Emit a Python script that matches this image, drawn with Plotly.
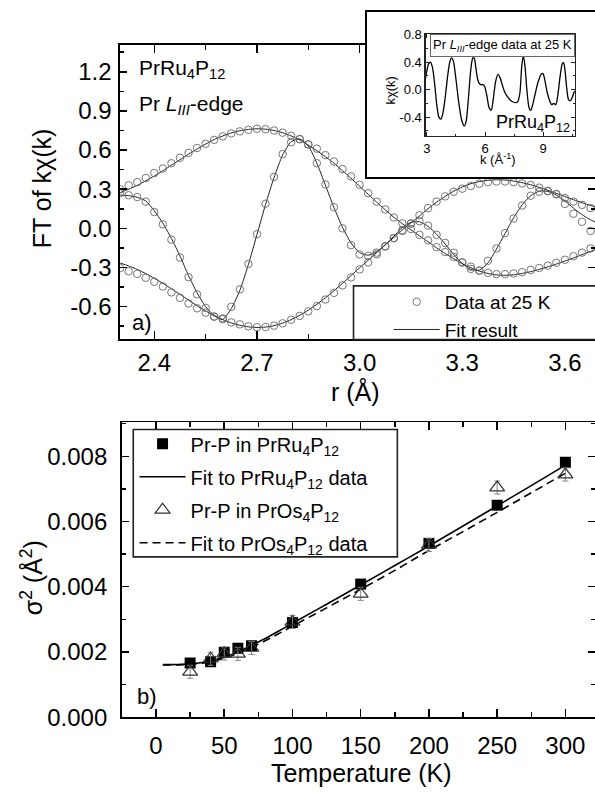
import plotly.graph_objects as go

# ---------------- panel a): Fourier transform of k*chi(k), PrRu4P12 ----------------
r_grid = [2.300, 2.325, 2.350, 2.375, 2.400, 2.425, 2.450, 2.475, 2.500, 2.525,
          2.550, 2.575, 2.600, 2.625, 2.650, 2.675, 2.700, 2.725, 2.750, 2.775,
          2.800, 2.825, 2.850, 2.875, 2.900, 2.925, 2.950, 2.975, 3.000, 3.025,
          3.050, 3.075, 3.100, 3.125, 3.150, 3.175, 3.200, 3.225, 3.250, 3.275,
          3.300, 3.325, 3.350, 3.375, 3.400, 3.425, 3.450, 3.475, 3.500, 3.525,
          3.550, 3.575, 3.600, 3.625, 3.650, 3.675, 3.700]

upper_data = [0.299, 0.329, 0.354, 0.386, 0.424, 0.459, 0.499, 0.541, 0.578, 0.616,
              0.648, 0.678, 0.705, 0.728, 0.743, 0.755, 0.763, 0.760, 0.750, 0.733,
              0.710, 0.683, 0.643, 0.611, 0.561, 0.512, 0.454, 0.398, 0.334, 0.269,
              0.204, 0.145, 0.083, 0.038, -0.005, -0.050, -0.092, -0.144, -0.182, -0.219,
              -0.261, -0.294, -0.324, -0.341, -0.351, -0.351, -0.346, -0.336, -0.319, -0.304,
              -0.286, -0.264, -0.241, -0.214, -0.186, -0.154, -0.130]
upper_fit = [0.274, 0.300, 0.329, 0.364, 0.401, 0.441, 0.484, 0.526, 0.568, 0.608,
             0.646, 0.681, 0.708, 0.731, 0.748, 0.758, 0.763, 0.760, 0.750, 0.733,
             0.708, 0.678, 0.638, 0.595, 0.549, 0.499, 0.441, 0.384, 0.322, 0.262,
             0.200, 0.142, 0.085, 0.035, -0.012, -0.058, -0.103, -0.150, -0.193, -0.233,
             -0.270, -0.302, -0.328, -0.346, -0.357, -0.360, -0.356, -0.346, -0.332, -0.315,
             -0.295, -0.274, -0.251, -0.227, -0.202, -0.177, -0.152]

lower_data = [-0.305, -0.329, -0.349, -0.379, -0.410, -0.446, -0.491, -0.533, -0.576, -0.613,
              -0.646, -0.676, -0.696, -0.721, -0.736, -0.751, -0.758, -0.756, -0.746, -0.728,
              -0.701, -0.671, -0.636, -0.596, -0.546, -0.495, -0.437, -0.376, -0.315, -0.261,
              -0.199, -0.139, -0.075, -0.015, 0.037, 0.100, 0.155, 0.205, 0.245, 0.280,
              0.304, 0.324, 0.342, 0.354, 0.359, 0.359, 0.354, 0.344, 0.332, 0.312,
              0.287, 0.262, 0.232, 0.205, 0.180, 0.155, 0.135]
lower_fit = [-0.266, -0.288, -0.315, -0.347, -0.383, -0.421, -0.463, -0.506, -0.550, -0.594,
             -0.634, -0.670, -0.700, -0.725, -0.743, -0.755, -0.760, -0.757, -0.746, -0.727,
             -0.700, -0.667, -0.627, -0.582, -0.532, -0.478, -0.422, -0.362, -0.302, -0.245,
             -0.186, -0.128, -0.070, -0.012, 0.042, 0.095, 0.150, 0.200, 0.245, 0.285,
             0.317, 0.342, 0.358, 0.368, 0.372, 0.370, 0.362, 0.350, 0.334, 0.314,
             0.292, 0.268, 0.244, 0.220, 0.196, 0.175, 0.160]

real_data = [0.270, 0.254, 0.240, 0.205, 0.125, 0.030, -0.087, -0.224, -0.374, -0.506,
             -0.610, -0.677, -0.690, -0.602, -0.468, -0.273, -0.045, 0.188, 0.394, 0.569,
             0.660, 0.685, 0.643, 0.499, 0.336, 0.162, 0.000, -0.129, -0.200, -0.211,
             -0.186, -0.137, -0.075, -0.020, 0.037, 0.055, 0.020, -0.050, -0.112, -0.187,
             -0.262, -0.311, -0.324, -0.249, -0.154, -0.037, 0.075, 0.175, 0.250, 0.280,
             0.285, 0.262, 0.187, 0.112, 0.050, -0.020, -0.040]
real_fit = [0.255, 0.250, 0.238, 0.210, 0.135, 0.040, -0.077, -0.212, -0.362, -0.494,
            -0.600, -0.668, -0.698, -0.615, -0.475, -0.278, -0.048, 0.182, 0.390, 0.562,
            0.664, 0.685, 0.632, 0.500, 0.331, 0.160, 0.008, -0.112, -0.186, -0.206,
            -0.180, -0.125, -0.060, 0.005, 0.045, 0.050, 0.015, -0.045, -0.120, -0.200,
            -0.270, -0.315, -0.320, -0.265, -0.160, -0.040, 0.080, 0.180, 0.250, 0.285,
            0.283, 0.255, 0.210, 0.155, 0.105, 0.065, 0.035]

ft_tick_vals = [-0.6, -0.3, 0.0, 0.3, 0.6, 0.9, 1.2]
ft_tick_text = ["-0.6", "-0.3", "0.0", "0.3", "0.6", "0.9", "1.2"]

# ---------------- inset: k*chi(k) at 25 K ----------------
inset_k = [2.92, 3.00, 3.08, 3.18, 3.28, 3.40, 3.52, 3.62, 3.72, 3.82,
           3.95, 4.08, 4.18, 4.27, 4.36, 4.50, 4.65, 4.80, 4.93, 5.03,
           5.15, 5.27, 5.37, 5.44, 5.52, 5.62, 5.72, 5.82, 5.92, 6.00,
           6.10, 6.22, 6.32, 6.42, 6.55, 6.67, 6.78, 6.90, 7.02, 7.15,
           7.30, 7.45, 7.60, 7.70, 7.80, 7.90, 7.98, 8.06, 8.16, 8.28,
           8.36, 8.46, 8.60, 8.75, 8.92, 9.00, 9.10, 9.22, 9.35, 9.45,
           9.55, 9.65, 9.75, 9.88, 10.00, 10.06, 10.13, 10.22, 10.32, 10.42,
           10.52, 10.62]
inset_kchi = [0.15, 0.28, 0.37, 0.40, 0.33, 0.08, -0.25, -0.40, -0.43, -0.35,
              -0.10, 0.22, 0.40, 0.46, 0.42, 0.15, -0.20, -0.45, -0.53, -0.45,
              -0.10, 0.30, 0.46, 0.46, 0.33, 0.15, 0.08, 0.07, 0.07, 0.03,
              -0.10, -0.27, -0.30, -0.15, 0.12, 0.22, 0.17, 0.06, -0.04, -0.10,
              -0.15, -0.18, -0.19, -0.17, -0.05, 0.35, 0.49, 0.35, 0.00, -0.27,
              -0.30, -0.22, -0.05, 0.12, 0.23, 0.23, 0.12, -0.05, -0.17, -0.22,
              -0.20, -0.22, -0.10, 0.20, 0.38, 0.39, 0.28, 0.02, -0.15, -0.16,
              -0.10, -0.02]
inset_k_ticks = [3, 6, 9]
inset_y_ticks = [-0.4, 0.0, 0.4, 0.8]
inset_y_text = ["-0.4", "0.0", "0.4", "0.8"]

# ---------------- panel b): Pr-P mean-square relative displacement ----------------
temps = [25, 40, 50, 60, 70, 100, 150, 200, 250, 300]
sigma_ru = [0.00166, 0.00170, 0.00199, 0.00211, 0.00219, 0.00290, 0.00408, 0.00533, 0.00650, 0.00782]
sigma_os = [0.00139, 0.00179, 0.00195, 0.00194, 0.00212, 0.00292, 0.00378, 0.00528, 0.00704, 0.00744]
sigma_os_err = [0.0002, 0.0002, 0.0002, 0.0002, 0.0002, 0.0002, 0.0002, 0.0002, 0.0002, 0.0002]

fit_temps = [5, 10, 20, 30, 40, 50, 60, 70, 80, 90, 100, 125, 150, 175, 200, 225, 250, 275, 300]
fit_ru = [0.00161, 0.00161, 0.00162, 0.00165, 0.00172, 0.00184, 0.00200, 0.00220, 0.00241, 0.00264,
          0.00288, 0.00346, 0.00405, 0.00465, 0.00525, 0.00586, 0.00648, 0.00710, 0.00773]
fit_os = [0.00160, 0.00160, 0.00161, 0.00164, 0.00170, 0.00181, 0.00196, 0.00214, 0.00234, 0.00256,
          0.00279, 0.00335, 0.00392, 0.00450, 0.00511, 0.00569, 0.00628, 0.00688, 0.00748]

# ---------------- figure geometry (pixels) ----------------
W, H = 595, 801
FONT = "Liberation Sans, Arial, Helvetica, sans-serif"


def fx(px):
    return px / W


def fy(py):
    return 1 - py / H


fig = go.Figure()

# panel a) fit curves, then the data circles
for fit in (upper_fit, lower_fit, real_fit):
    fig.add_trace(go.Scatter(
        x=r_grid, y=fit, mode="lines", line=dict(color="#222", width=1, shape="spline", smoothing=0.6),
        name="Fit result", legend="legend", legendrank=2, showlegend=fit is upper_fit,
        xaxis="x", yaxis="y", hoverinfo="skip"))
for data in (upper_data, lower_data, real_data):
    fig.add_trace(go.Scatter(
        x=r_grid, y=data, mode="markers",
        marker=dict(symbol="circle-open", size=7.5, color="#666", line=dict(width=0.9)),
        name="Data at 25 K", legend="legend", legendrank=1, showlegend=data is upper_data,
        xaxis="x", yaxis="y", hoverinfo="skip"))

# panel b) fits, squares, triangles
fig.add_trace(go.Scatter(
    x=fit_temps, y=fit_ru, mode="lines", line=dict(color="black", width=1.6, shape="spline"),
    name="Fit to PrRu<sub>4</sub>P<sub>12</sub> data", legend="legend2", legendrank=2,
    legendgroup="b2", xaxis="x2", yaxis="y2", hoverinfo="skip"))
fig.add_trace(go.Scatter(
    x=fit_temps, y=fit_os, mode="lines",
    line=dict(color="black", width=1.6, dash="8px,5px", shape="spline"),
    name="Fit to PrOs<sub>4</sub>P<sub>12</sub> data", legend="legend2", legendrank=4,
    legendgroup="b4", xaxis="x2", yaxis="y2", hoverinfo="skip"))
fig.add_trace(go.Scatter(
    x=temps, y=sigma_ru, mode="markers",
    marker=dict(symbol="square", size=11, color="black"),
    name="Pr-P in PrRu<sub>4</sub>P<sub>12</sub>", legend="legend2", legendrank=1,
    legendgroup="b1", xaxis="x2", yaxis="y2", hoverinfo="skip"))
fig.add_trace(go.Scatter(
    x=temps, y=sigma_os, mode="markers",
    marker=dict(symbol="triangle-up-open", size=13, color="#333", line=dict(width=1.2)),
    error_y=dict(type="data", array=sigma_os_err, color="#888", thickness=1, width=3),
    name="Pr-P in PrOs<sub>4</sub>P<sub>12</sub>", legend="legend2", legendrank=3,
    legendgroup="b3", xaxis="x2", yaxis="y2", hoverinfo="skip"))

# right-hand tick columns (ticks only, the frame runs past the page edge)
fig.add_trace(go.Scatter(x=[], y=[], xaxis="x", yaxis="y5", showlegend=False, hoverinfo="skip"))
fig.add_trace(go.Scatter(x=[], y=[], xaxis="x2", yaxis="y6", showlegend=False, hoverinfo="skip"))

# white frame that holds the inset (empty subplot used as a backdrop)
fig.add_trace(go.Scatter(x=[], y=[], xaxis="x3", yaxis="y3", showlegend=False, hoverinfo="skip"))

# inset curve
fig.add_trace(go.Scatter(
    x=inset_k, y=inset_kchi, mode="lines", line=dict(color="black", width=1.3, shape="spline", smoothing=0.8),
    showlegend=False, xaxis="x4", yaxis="y4", hoverinfo="skip"))

tick_font = dict(size=24, color="black", family=FONT)
base = dict(showline=True, linecolor="black", linewidth=1.8, ticks="inside", tickcolor="black",
            tickwidth=1.5, showgrid=False, zeroline=False, tickfont=tick_font)

FT_RANGE = [-0.852, 1.405]
SIG_RANGE = [0, 0.00904]
ft_minor = dict(ticks="inside", dtick=0.15, tick0=0, ticklen=4, tickwidth=1.5, tickcolor="black")
sig_minor = dict(ticks="inside", dtick=0.001, tick0=0, ticklen=4, tickwidth=1.5, tickcolor="black")

fig.update_layout(
    width=W, height=H, margin=dict(l=0, r=0, t=0, b=0),
    paper_bgcolor="white", plot_bgcolor="white",
    font=dict(family=FONT, color="black"),
    xaxis=dict(base, mirror="ticks", domain=[fx(118.5), 1.0], range=[2.3, 3.688], anchor="y",
               tickmode="linear", tick0=0, dtick=0.3, tickformat=".1f", ticklen=8,
               minor=dict(ticks="inside", dtick=0.15, tick0=0, ticklen=5, tickwidth=1.5, tickcolor="black"),
               ticklabelstandoff=1),
    yaxis=dict(base, domain=[fy(341), fy(39)], range=FT_RANGE, anchor="x",
               tickmode="array", tickvals=ft_tick_vals, ticktext=ft_tick_text, ticklen=7,
               minor=ft_minor, ticklabelstandoff=2),
    yaxis5=dict(base, showline=False, overlaying="y", side="right", anchor="x", range=FT_RANGE,
                tickmode="array", tickvals=ft_tick_vals, ticklen=7, showticklabels=False,
                minor=ft_minor),
    xaxis2=dict(base, mirror="ticks", domain=[fx(120.3), 1.0], range=[-25, 321.7], anchor="y2",
                tickmode="linear", tick0=0, dtick=50, ticklen=8,
                minor=dict(ticks="inside", dtick=25, tick0=0, ticklen=5, tickwidth=1.5, tickcolor="black"),
                ticklabelstandoff=6),
    yaxis2=dict(base, domain=[fy(728.3), fy(426)], range=SIG_RANGE, anchor="x2",
                tickmode="linear", tick0=0, dtick=0.002, tickformat=".3f", ticklen=7,
                minor=sig_minor, ticklabelstandoff=8),
    yaxis6=dict(base, showline=False, overlaying="y2", side="right", anchor="x2", range=SIG_RANGE,
                tickmode="linear", tick0=0, dtick=0.002, ticklen=7, showticklabels=False,
                minor=sig_minor),
    xaxis3=dict(domain=[fx(366), 1.0], range=[0, 1], anchor="y3", showline=True, linecolor="black",
                linewidth=2, mirror=True, ticks="", showticklabels=False, showgrid=False, zeroline=False),
    yaxis3=dict(domain=[fy(174), fy(5)], range=[0, 1], anchor="x3", showline=True, linecolor="black",
                linewidth=2, mirror=False, ticks="", showticklabels=False, showgrid=False, zeroline=False),
    xaxis4=dict(domain=[fx(425), fx(575)], range=[2.93, 10.65], anchor="y4", showline=True,
                linecolor="#222", linewidth=1.2, mirror="ticks", ticks="inside", ticklen=4,
                tickcolor="#222", tickmode="array", tickvals=inset_k_ticks, showgrid=False,
                zeroline=False, tickfont=dict(size=13, color="black", family=FONT),
                minor=dict(ticks="inside", dtick=1.5, tick0=0, ticklen=2, tickcolor="#222"),
                ticklabelstandoff=0),
    yaxis4=dict(domain=[fy(132), fy(27.5)], range=[-0.67, 0.81], anchor="x4", showline=True,
                linecolor="#222", linewidth=1.2, mirror="ticks", ticks="inside", ticklen=4,
                tickcolor="#222", tickmode="array", tickvals=inset_y_ticks, ticktext=inset_y_text,
                showgrid=False, zeroline=False, tickfont=dict(size=13, color="black", family=FONT),
                minor=dict(ticks="inside", dtick=0.2, tick0=0, ticklen=2, tickcolor="#222"),
                ticklabelstandoff=0),
    legend=dict(x=fx(388), y=fy(283), xanchor="left", yanchor="top", bgcolor="rgba(0,0,0,0)",
                borderwidth=0, font=dict(size=19, family=FONT, color="black"), itemwidth=46,
                tracegroupgap=0, traceorder="normal"),
    legend2=dict(x=fx(133), y=fy(428), xanchor="left", yanchor="top", bgcolor="rgba(0,0,0,0)",
                 borderwidth=0, font=dict(size=20, family=FONT, color="black"), itemwidth=46,
                 tracegroupgap=4, traceorder="grouped"),
    showlegend=True,
)

# legend frames
fig.add_shape(type="rect", xref="paper", yref="paper", x0=fx(352.7), x1=fx(599), y0=fy(341), y1=fy(286),
              line=dict(color="#222", width=1.6), fillcolor="white", layer="above")
fig.add_shape(type="rect", xref="paper", yref="paper", x0=fx(131.7), x1=fx(396.7), y0=fy(564), y1=fy(433.3),
              line=dict(color="#222", width=1.6), fillcolor="white", layer="above")


def label(text, x, y, size, xanchor="center", angle=0, **kw):
    fig.add_annotation(text=text, x=fx(x), y=fy(y), xref="paper", yref="paper", showarrow=False,
                       xanchor=xanchor, yanchor="middle", textangle=angle,
                       font=dict(size=size, family=FONT, color="black"), **kw)


# axis titles
label("FT of k\u03c7(k)", 40, 186, 25, angle=-90)
label("r (\u00c5)", 355, 394, 25)
label("\u03c3<sup>2</sup> (\u00c5<sup>2</sup>)", 30, 585, 25, angle=-90)
label("Temperature (K)", 361, 786, 25)

# panel captions
label("PrRu<sub>4</sub>P<sub>12</sub>", 135, 64, 21, xanchor="left")
label("Pr <i>L</i><sub><i>III</i></sub>-edge", 135, 100, 21, xanchor="left")
label("a)", 140, 324, 22)
label("b)", 145, 707, 22)

# inset texts
label("k\u03c7(k)", 390, 86, 13, angle=-90)
label("k (\u00c5<sup>-1</sup>)", 498, 156, 13)
label("PrRu<sub>4</sub>P<sub>12</sub>", 572, 119, 18, xanchor="right")
label("Pr <i>L</i><sub><i>III</i></sub>-edge data at 25 K", 502.5, 39.7, 13,
      bordercolor="#666", borderwidth=1, borderpad=2, bgcolor="white")

fig.write_html("out.html", config={"displayModeBar": False, "staticPlot": True})
